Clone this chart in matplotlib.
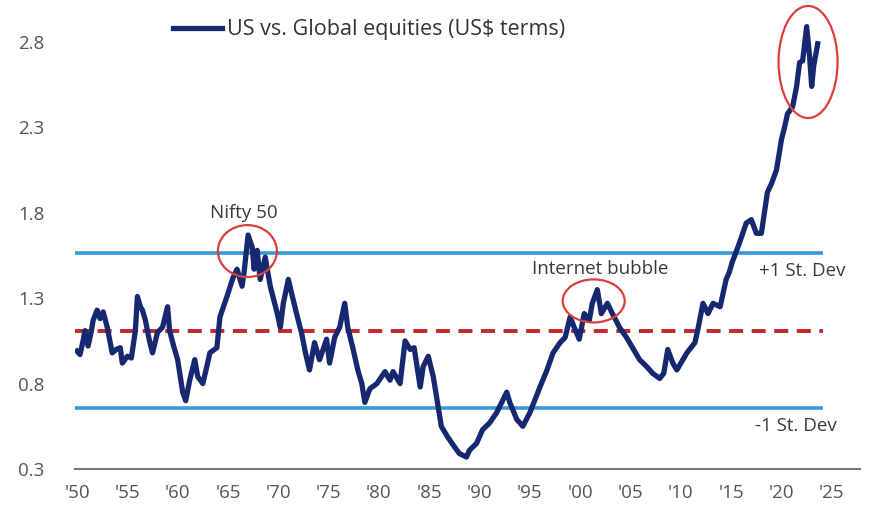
import matplotlib.pyplot as plt
from matplotlib.patches import Ellipse

plt.rcParams['font.family'] = ['Open Sans', 'DejaVu Sans']

# Serie (ano, valor relativo EEUU / global)
years = [1950.0, 1950.3, 1950.6, 1950.8, 1951.1, 1951.4, 1951.6, 1952.0, 1952.3, 1952.6,
         1953.0, 1953.5, 1953.9, 1954.3, 1954.5, 1955.0, 1955.4, 1955.8, 1956.0, 1956.3,
         1956.5, 1956.8, 1957.2, 1957.5, 1958.0, 1958.5, 1959.0, 1959.2, 1959.6, 1960.0,
         1960.5, 1960.8, 1961.2, 1961.7, 1962.0, 1962.5, 1962.9, 1963.2, 1963.9, 1964.2,
         1964.9, 1965.5, 1965.9, 1966.4, 1966.6, 1967.0, 1967.4, 1967.6, 1967.9, 1968.2,
         1968.7, 1969.2, 1969.9, 1970.2, 1970.5, 1971.0, 1971.4, 1971.9, 1972.3, 1972.7,
         1973.1, 1973.6, 1974.1, 1974.8, 1975.1, 1975.6, 1976.1, 1976.6, 1976.9, 1977.4,
         1977.9, 1978.3, 1978.6, 1979.1, 1979.8, 1980.6, 1981.1, 1981.4, 1982.1, 1982.6,
         1983.1, 1983.5, 1984.1, 1984.4, 1984.9, 1985.4, 1985.9, 1986.2, 1986.8, 1987.5,
         1988.0, 1988.7, 1989.0, 1989.7, 1990.3, 1991.0, 1991.7, 1992.7, 1993.0, 1993.7,
         1994.3, 1995.0, 1996.0, 1996.7, 1997.3, 1998.0, 1998.5, 1999.0, 1999.4, 1999.9,
         2000.4, 2000.9, 2001.2, 2001.7, 2002.1, 2002.7, 2003.2, 2003.9, 2004.6, 2005.2,
         2005.9, 2006.6, 2007.2, 2007.9, 2008.3, 2008.7, 2009.2, 2009.6, 2010.6, 2011.4,
         2011.7, 2012.2, 2012.7, 2013.2, 2013.9, 2014.5, 2014.8, 2015.1, 2015.8, 2016.5,
         2017.0, 2017.5, 2018.0, 2018.3, 2018.6, 2019.0, 2019.5, 2020.0, 2020.3, 2020.6,
         2021.1, 2021.5, 2021.8, 2022.1, 2022.5, 2022.8, 2023.0, 2023.2, 2023.6]
ratio = [0.99, 0.97, 1.05, 1.11, 1.02, 1.10, 1.17, 1.23, 1.18, 1.22,
         1.13, 0.98, 1.00, 1.01, 0.92, 0.96, 0.95, 1.11, 1.31, 1.25,
         1.23, 1.17, 1.05, 0.98, 1.10, 1.13, 1.25, 1.11, 1.02, 0.94,
         0.75, 0.70, 0.82, 0.94, 0.84, 0.80, 0.90, 0.98, 1.01, 1.19,
         1.31, 1.42, 1.47, 1.37, 1.45, 1.67, 1.60, 1.47, 1.58, 1.41,
         1.54, 1.37, 1.21, 1.13, 1.27, 1.41, 1.31, 1.19, 1.10, 0.98,
         0.88, 1.04, 0.94, 1.06, 0.92, 1.07, 1.13, 1.27, 1.13, 1.01,
         0.88, 0.80, 0.69, 0.77, 0.80, 0.87, 0.82, 0.87, 0.80, 1.05,
         1.00, 1.01, 0.78, 0.90, 0.96, 0.84, 0.66, 0.55, 0.49, 0.43,
         0.39, 0.37, 0.41, 0.45, 0.53, 0.57, 0.63, 0.75, 0.69, 0.59,
         0.55, 0.63, 0.78, 0.88, 0.98, 1.04, 1.07, 1.19, 1.13, 1.06,
         1.21, 1.17, 1.27, 1.35, 1.21, 1.27, 1.21, 1.13, 1.07, 1.01,
         0.94, 0.90, 0.86, 0.83, 0.86, 1.00, 0.92, 0.88, 0.98, 1.04,
         1.12, 1.27, 1.21, 1.27, 1.25, 1.41, 1.45, 1.51, 1.62, 1.74,
         1.76, 1.68, 1.68, 1.80, 1.92, 1.97, 2.05, 2.23, 2.30, 2.38,
         2.42, 2.54, 2.68, 2.69, 2.89, 2.71, 2.54, 2.66, 2.79]

mean_level = 1.11
upper_sd = 1.565
lower_sd = 0.657

yticks = [0.3, 0.8, 1.3, 1.8, 2.3, 2.8]
xticks = [1950, 1955, 1960, 1965, 1970, 1975, 1980, 1985, 1990, 1995,
          2000, 2005, 2010, 2015, 2020, 2025]
xlabels = ["'50", "'55", "'60", "'65", "'70", "'75", "'80", "'85", "'90", "'95",
           "'00", "'05", "'10", "'15", "'20", "'25"]

fig = plt.figure(figsize=(8.7, 5.05), dpi=100)
ax = fig.add_axes([0.0862, 0.0713, 0.9023, 0.9287])

navy = '#16286f'
light_blue = '#3a9ad9'
red = '#c1272d'

ax.hlines([upper_sd, lower_sd], 1949.8, 2024.1, color=light_blue, lw=2.6, zorder=1)
ax.hlines(mean_level, 1949.8, 2024.1, color=red, lw=2.8, linestyles=(0, (3.6, 2.2)), zorder=1)
ax.plot(years, ratio, color=navy, lw=3.8, solid_joinstyle='round',
        label='US vs. Global equities (US$ terms)', zorder=3)

# cercles d'annotation
for cx, cy, w, h in [(1966.93, 1.576, 5.86, 0.304),
                     (2001.34, 1.284, 6.16, 0.252),
                     (2022.64, 2.683, 5.86, 0.656)]:
    ax.add_patch(Ellipse((cx, cy), w, h, fill=False, ec='#d8403a', lw=1.6, zorder=4))

txt = '#3a3a3a'
ax.text(1966.6, 1.80, 'Nifty 50', ha='center', va='center', fontsize=13.5, color=txt)
ax.text(2002.0, 1.47, 'Internet bubble', ha='center', va='center', fontsize=13.5, color=txt)
ax.text(2022.1, 1.46, '+1 St. Dev', ha='center', va='center', fontsize=13.5, color=txt)
ax.text(2021.4, 0.55, '-1 St. Dev', ha='center', va='center', fontsize=13.5, color=txt)

ax.set_xlim(1949.8, 2027.8)
ax.set_ylim(0.3, 3.046)
ax.set_yticks(yticks)
ax.set_yticklabels([f'{v:.1f}' for v in yticks])
ax.set_xticks(xticks)
ax.set_xticklabels(xlabels)
ax.tick_params(length=0, labelsize=13.5, colors='#555555')
ax.tick_params(axis='y', pad=22)
ax.tick_params(axis='x', pad=11)
for s in ['top', 'right', 'left']:
    ax.spines[s].set_visible(False)
ax.spines['bottom'].set_color('#777777')
ax.spines['bottom'].set_linewidth(1.5)

ax.legend(loc='upper left', bbox_to_anchor=(0.1, 1.0), frameon=False,
          handlelength=2.3, handletextpad=0.2, fontsize=15.5, labelcolor='#333333')

fig.savefig('out.png', dpi=100)
